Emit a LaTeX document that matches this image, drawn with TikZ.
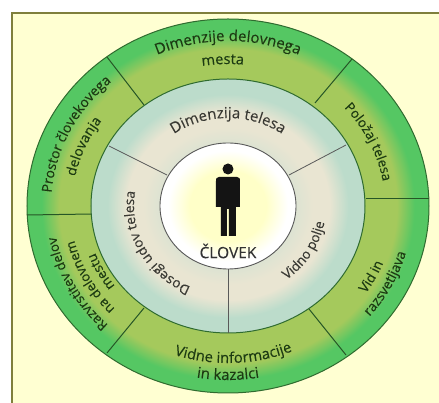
\documentclass[tikz,border=0pt]{standalone}
\usepackage{fontspec}
\setmainfont{Open Sans}[FakeBold=0.25]
\usetikzlibrary{decorations.text}
\definecolor{olivegr}{HTML}{A5C95C}
\definecolor{brightgr}{HTML}{55C763}
\definecolor{beigeb}{HTML}{E9E5D2}
\definecolor{nearcore}{HTML}{DDE3D2}
\definecolor{paleb}{HTML}{BCDCCB}
\definecolor{coreY}{HTML}{FFFFC8}
\definecolor{paper}{HTML}{FFFFD2}
\definecolor{framec}{HTML}{7F7F3C}
\definecolor{ringc}{HTML}{2F6B2F}
\definecolor{outertxt}{HTML}{1C3A12}
\definecolor{innertxt}{HTML}{3A3A34}
\pgfdeclareradialshading{outerband}{\pgfpoint{0bp}{0bp}}{color(0bp)=(olivegr);color(21bp)=(olivegr);color(23.2bp)=(brightgr);color(50bp)=(brightgr)}
\pgfdeclareradialshading{midband}{\pgfpoint{0bp}{0bp}}{color(0bp)=(nearcore);color(12.5bp)=(nearcore);color(15.5bp)=(beigeb);color(18.5bp)=(beigeb);color(22bp)=(paleb);color(50bp)=(paleb)}
\pgfdeclareradialshading{coreband}{\pgfpoint{0bp}{0bp}}{color(0bp)=(coreY);color(14bp)=(coreY);color(22bp)=(white);color(50bp)=(white)}
\tikzset{
  x=1pt,y=1pt,
  ringline/.style={draw=ringc,line width=1pt},
  spokeouter/.style={draw=ringc!80!black,line width=1pt},
  spokeinner/.style={draw=black!65,line width=0.8pt},
  person/.style={fill=black!92,draw=none},
}
% size, colour, rx, ry, start, end, text
\newcommand{\arctxt}[7]{%
  \path[decorate,decoration={text along path,text align=center,
    text={|\fontsize{#1}{#1}\selectfont\color{#2}|#7}}]
    (#5:#3pt and #4pt) arc[start angle=#5,end angle=#6,x radius=#3pt,y radius=#4pt];}
\begin{document}
\begin{tikzpicture}
\useasboundingbox (-228,-197) rectangle (211,206);
\fill[white] (-228,-197) rectangle (211,206);
\fill[paper] (-216,-197) rectangle (211,193);
\draw[framec,line width=2pt] (-216,-197) -- (-216,193) -- (211,193);
% bands
\shade[shading=outerband] (0,0) ellipse [x radius=201pt,y radius=187pt];
\draw[ringline] (0,0) ellipse [x radius=201pt,y radius=187pt];
\draw[spokeouter] (-121,149) -- (-84,101);
\draw[spokeouter] (124,147) -- (87,103);
\draw[spokeouter] (138,7) -- (201,7);
\draw[spokeouter] (81,-103) -- (118,-149);
\draw[spokeouter] (-121,-147) -- (-84,-102);
\draw[spokeouter] (-201,-9) -- (-136,-8);
\shade[shading=midband] (0,0) ellipse [x radius=137pt,y radius=127pt];
\draw[ringline] (0,0) ellipse [x radius=137pt,y radius=127pt];
\draw[spokeinner] (-119,60) -- (-61,31);
\draw[spokeinner] (118,61) -- (61,31);
\draw[spokeinner] (0,-63) -- (0,-127);
\shade[shading=coreband] (0,0) ellipse [x radius=68pt,y radius=63pt];
\draw[draw=black!65,line width=0.9pt] (0,0) ellipse [x radius=68pt,y radius=63pt];
% person
\fill[person] (0,37) circle [radius=5.5pt];
\fill[person] (-9,29) -- (9,29) .. controls (12,29) and (12,27) .. (12,25) -- (12,-1) -- (8,-1) -- (8,-30) -- (1,-30) -- (1,-3) -- (-1,-3) -- (-1,-30) -- (-7,-30) -- (-7,-1) -- (-12,-1) -- (-12,25) .. controls (-12,27) and (-12,29) .. (-9,29) -- cycle;
\node[font=\fontsize{15.5}{15.5}\selectfont,text=black!80] (clovek) at (0,-45) {ČLOVEK};
% outer labels
\arctxt{15}{outertxt}{177}{165}{150}{30}{Dimenzije delovnega}
\arctxt{14.5}{outertxt}{152}{142}{132}{52}{mesta}
\arctxt{13.3}{outertxt}{157}{146}{80}{-30}{Položaj telesa}
\arctxt{13.6}{outertxt}{167}{155}{-77}{23}{Vid in}
\arctxt{13.6}{outertxt}{185}{172}{-77}{23}{razsvetljava}
\arctxt{14.8}{outertxt}{169}{157}{-138}{-38}{Vidne informacije}
\arctxt{15}{outertxt}{187}{174}{-140}{-40}{in kazalci}
\arctxt{13.3}{outertxt}{175}{163}{258}{158}{Razvrstitev delov}
\arctxt{13.3}{outertxt}{158}{147}{258}{158}{na delovnem}
\arctxt{13.3}{outertxt}{142}{132}{258}{158}{mestu}
\arctxt{13.8}{outertxt}{177}{165}{204}{104}{Prostor človekovega}
\arctxt{13.8}{outertxt}{156}{145}{207}{107}{delovanja}
% inner labels
\arctxt{15}{innertxt}{94}{88}{150}{30}{Dimenzija telesa}
\arctxt{13.5}{innertxt}{98}{92}{-81}{19}{Vidno polje}
\arctxt{13.6}{innertxt}{94}{88}{268}{148}{Dosegi udov telesa}
\end{tikzpicture}
\end{document}
